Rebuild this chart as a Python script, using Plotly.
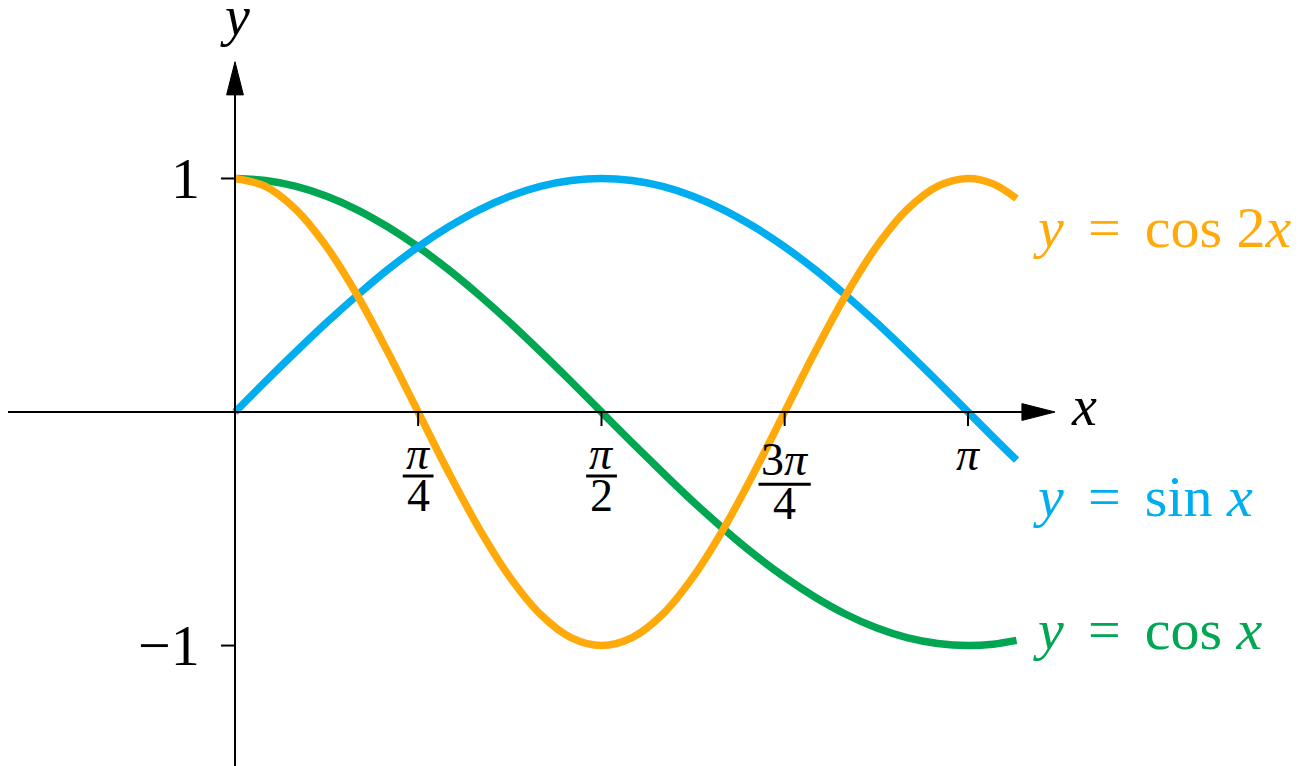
import plotly.graph_objects as go

# sample points (x in radians, every pi/24 plus the tail past pi)
x_vals = [0, 0.131, 0.262, 0.393, 0.524, 0.654, 0.785, 0.916, 1.047, 1.178, 1.309, 1.440,
          1.571, 1.702, 1.833, 1.963, 2.094, 2.225, 2.356, 2.487, 2.618, 2.749, 2.880, 3.011,
          3.142, 3.25, 3.35]
sin_vals = [0, 0.131, 0.259, 0.383, 0.5, 0.609, 0.707, 0.793, 0.866, 0.924, 0.966, 0.991,
            1, 0.991, 0.966, 0.924, 0.866, 0.793, 0.707, 0.609, 0.5, 0.383, 0.259, 0.131,
            0, -0.108, -0.206]
cos_vals = [1, 0.991, 0.966, 0.924, 0.866, 0.793, 0.707, 0.609, 0.5, 0.383, 0.259, 0.131,
            0, -0.131, -0.259, -0.383, -0.5, -0.609, -0.707, -0.793, -0.866, -0.924, -0.966, -0.991,
            -1, -0.994, -0.978]
cos2_vals = [1, 0.966, 0.866, 0.707, 0.5, 0.259, 0, -0.259, -0.5, -0.707, -0.866, -0.966,
             -1, -0.966, -0.866, -0.707, -0.5, -0.259, 0, 0.259, 0.5, 0.707, 0.866, 0.966,
             1, 0.977, 0.914]

SP = "\u2006"
series_labels = ["<i>y</i>" + SP + " = " + SP + "sin <i>x</i>",
                 "<i>y</i>" + SP + " = " + SP + "cos <i>x</i>",
                 "<i>y</i>" + SP + " = " + SP + "cos 2<i>x</i>"]
series_colors = ["#00AEEF", "#00A651", "#FFAA0A"]
label_y = [-0.36, -0.93, 0.79]

xtick_vals = [0.785, 1.571, 2.356, 3.142]
xtick_num = ["π", "π", "3π", "π"]
xtick_den = ["4", "2", "4", ""]
ytick_vals = [1, -1]
ytick_text = ["1", "−1"]

FONT = "Liberation Serif"
# ranges shifted by the page's 8px body margin
X_RANGE = [-0.973, 4.595]
Y_RANGE = [-1.550, 1.730]
X_END = 3.515
Y_END = 1.5
TICK = 0.06

fig = go.Figure()

# cos first, then sin, then cos2x on top
for ys, col in [(cos_vals, series_colors[1]), (sin_vals, series_colors[0]), (cos2_vals, series_colors[2])]:
    fig.add_trace(go.Scatter(x=x_vals, y=ys, mode="lines",
                             line=dict(color=col, width=7.5, shape="spline", smoothing=1.0),
                             hoverinfo="skip", showlegend=False))

shapes = []
# axes
shapes.append(dict(type="line", x0=X_RANGE[0], x1=X_END - 0.1, y0=0, y1=0, line=dict(color="black", width=2)))
shapes.append(dict(type="line", x0=0, x1=0, y0=Y_RANGE[0], y1=Y_END - 0.1, line=dict(color="black", width=2)))
# arrow heads
shapes.append(dict(type="path", path="M %f,0 L %f,%f L %f,%f Z" % (X_END, X_END - 0.142, 0.036, X_END - 0.142, -0.036),
                   fillcolor="black", line=dict(color="black", width=1)))
shapes.append(dict(type="path", path="M 0,%f L %f,%f L %f,%f Z" % (Y_END, -0.036, Y_END - 0.142, 0.036, Y_END - 0.142),
                   fillcolor="black", line=dict(color="black", width=1)))

annotations = []
tick_font = dict(family=FONT, size=46, color="black")
for xv, num, den in zip(xtick_vals, xtick_num, xtick_den):
    shapes.append(dict(type="line", x0=xv, x1=xv, y0=0, y1=-TICK, line=dict(color="black", width=2)))
    num_txt = num.replace("π", "<i>π</i>")
    if den:
        tall = num.startswith("3")
        off = -0.035 if tall else 0.0
        half = 0.112 if tall else 0.066
        shapes.append(dict(type="line", x0=xv - half, x1=xv + half, y0=-0.274 + off, y1=-0.274 + off,
                           line=dict(color="black", width=3)))
        annotations.append(dict(x=xv, y=(-0.2 if tall else -0.176), text=num_txt, showarrow=False, font=tick_font,
                                xanchor="center", yanchor="middle", height=36, valign="middle", borderpad=0))
        annotations.append(dict(x=xv, y=-0.355 + off, text=den, showarrow=False, font=tick_font,
                                xanchor="center", yanchor="middle", height=36, valign="middle", borderpad=0))
    else:
        annotations.append(dict(x=xv, y=-0.184, text=num_txt, showarrow=False, font=tick_font,
                                xanchor="center", yanchor="middle"))

for yv, txt in zip(ytick_vals, ytick_text):
    shapes.append(dict(type="line", x0=-TICK, x1=0, y0=yv, y1=yv, line=dict(color="black", width=2)))
    annotations.append(dict(x=-0.14, y=yv, text=txt, showarrow=False, font=dict(family=FONT, size=58, color="black"),
                            xanchor="right", yanchor="middle"))

# axis names
annotations.append(dict(x=0, y=Y_RANGE[1], text="<i>y</i>", showarrow=False, font=dict(family=FONT, size=56, color="black"),
                        xanchor="center", yanchor="top", height=38, valign="bottom", borderpad=0))
annotations.append(dict(x=3.575, y=0.026, text="<i>x</i>", showarrow=False, font=dict(family=FONT, size=56, color="black"),
                        xanchor="left", yanchor="middle"))

# curve labels
for txt, col, ly in zip(series_labels, series_colors, label_y):
    annotations.append(dict(x=3.41, y=ly, text=txt, showarrow=False, font=dict(family=FONT, size=58, color=col),
                            xanchor="left", yanchor="middle"))

fig.update_layout(
    width=1299, height=766,
    margin=dict(l=0, r=0, t=0, b=0),
    paper_bgcolor="white", plot_bgcolor="white",
    xaxis=dict(range=X_RANGE, visible=False, fixedrange=True),
    yaxis=dict(range=Y_RANGE, visible=False, fixedrange=True),
    shapes=shapes, annotations=annotations,
    showlegend=False,
)

fig.write_html("out.html")
